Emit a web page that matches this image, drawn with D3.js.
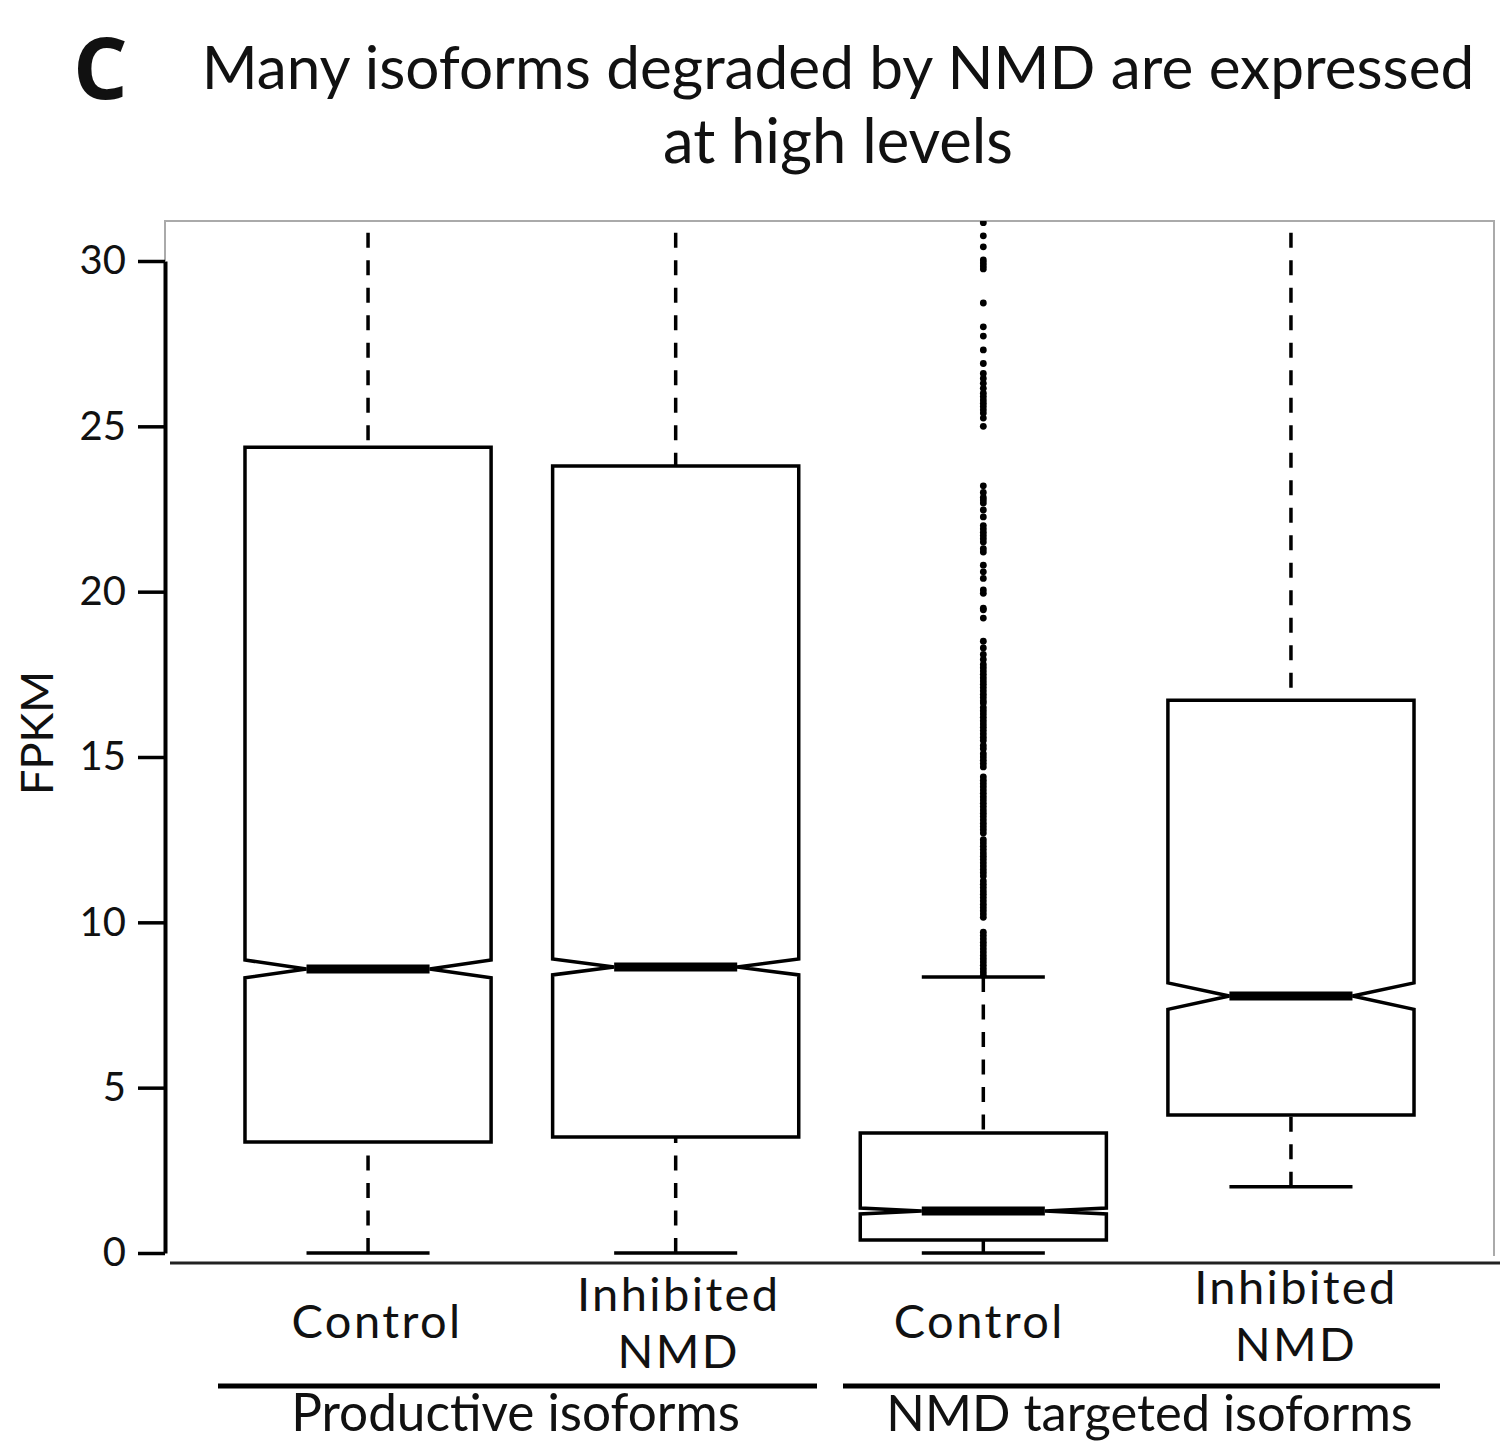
<!DOCTYPE html>
<html>
<head>
<meta charset="utf-8">
<script src="https://cdn.jsdelivr.net/npm/d3@7"></script>
<style>
  body { margin: 0; background: #fff; }
  text { font-family: Lato, "Open Sans", sans-serif; fill: #111; }
</style>
</head>
<body>
<div id="chart"></div>
<script>
// CHART DATA
const categories = ['pc', 'pi', 'nc', 'ni'];
const catLabels = [['Control'], ['Inhibited', 'NMD'], ['Control'], ['Inhibited', 'NMD']];
const groupLabels = ['Productive isoforms', 'NMD targeted isoforms'];
const q1Values = [3.36, 3.51, 0.39, 4.17];
const medianValues = [8.59, 8.65, 1.27, 7.77];
const q3Values = [24.37, 23.8, 3.63, 16.72];
const notchHalf = [0.27, 0.24, 0.09, 0.4];
const whiskerLow = [0, 0, 0, 2.0];
const whiskerHigh = [40, 40, 8.35, 40];
const yTicks = [0, 5, 10, 15, 20, 25, 30];
// outliers of the NMD targeted control box
const outliers = [
  31.16, 30.76, 30.43, 30.03, 29.94, 29.85, 29.76, 28.73, 28.01, 27.73, 27.31,
  26.9, 26.6, 26.45, 26.3, 26.15, 26.0, 25.9, 25.8, 25.7, 25.6, 25.5, 25.4, 25.25, 25.0,
  23.2, 23.0, 22.85, 22.77, 22.68, 22.47, 22.26,
  22.0, 21.9, 21.8, 21.7, 21.6, 21.5, 21.3, 21.2, 20.8, 20.6, 20.4, 20.05, 19.95,
  19.5, 19.45, 19.2, 18.5, 18.3,
  18.1, 17.95, 17.8, 17.7, 17.6, 17.5, 17.4, 17.3, 17.2, 17.1, 17.0, 16.9, 16.8, 16.7, 16.63,
  16.5, 16.4, 16.3, 16.2, 16.1, 16.0, 15.9, 15.8, 15.7, 15.6, 15.5,
  15.35, 15.25, 15.1, 15.0, 14.9, 14.8, 14.7,
  14.4, 14.3, 14.2, 14.1, 14.0, 13.9, 13.8, 13.7, 13.6, 13.5, 13.4, 13.3, 13.2, 13.1, 13.0, 12.9, 12.8, 12.7,
  12.5, 12.4, 12.3, 12.2, 12.1, 12.0, 11.9, 11.8, 11.7, 11.6, 11.5, 11.4,
  11.25, 11.15, 11.05, 10.95, 10.85, 10.75, 10.65, 10.55, 10.45, 10.35, 10.25, 10.15,
  9.7, 9.6, 9.5, 9.4, 9.3, 9.2, 9.1, 9.0, 8.9, 8.8, 8.7, 8.6, 8.5, 8.4
];
const outlierCat = 'nc';

// LAYOUT
const SVG_WIDTH = 1501;
const SVG_HEIGHT = 1444;
const PLOT = { left: 165, right: 1494, top: 221, bottom: 1256 };
const AXIS_Y0 = 1253, AXIS_Y30 = 261;

const svg = d3.select('#chart')
  .append('svg')
  .attr('width', SVG_WIDTH)
  .attr('height', SVG_HEIGHT);

// panel letter and title
svg.append('text')
  .attr('x', 73).attr('y', 99)
  .style('font-size', '86px').style('font-weight', 'bold')
  .style('font-family', '"Open Sans", sans-serif')
  .text('C');

const title = svg.append('text')
  .attr('text-anchor', 'middle');
title.append('tspan').attr('x', 838).attr('y', 89)
  .style('font-size', '60.3px')
  .text('Many isoforms degraded by NMD are expressed');
title.append('tspan').attr('x', 838).attr('y', 163)
  .style('font-size', '61.5px')
  .text('at high levels');

// scales
const xScale = d3.scalePoint()
  .domain(categories)
  .range([PLOT.left, PLOT.right])
  .padding(0.66);
const boxW = xScale.step() * 0.8;

const yScale = d3.scaleLinear()
  .domain([0, 30])
  .range([AXIS_Y0, AXIS_Y30]);

// plot frame (light gray)
svg.append('path')
  .attr('d', `M${PLOT.left},${AXIS_Y30}V${PLOT.top}H${PLOT.right}V${PLOT.bottom}`)
  .attr('fill', 'none')
  .attr('stroke', '#aaa')
  .attr('stroke-width', 2);

// bottom line
svg.append('line')
  .attr('x1', PLOT.left + 5).attr('x2', PLOT.right + 6)
  .attr('y1', 1263).attr('y2', 1263)
  .attr('stroke', '#222').attr('stroke-width', 3);

// y axis
const yAxis = svg.append('g')
  .attr('transform', `translate(${PLOT.left}, 0)`)
  .call(d3.axisLeft(yScale).tickValues(yTicks).tickSize(27).tickSizeOuter(0).tickPadding(12));
yAxis.select('.domain').attr('stroke', '#000').attr('stroke-width', 4);
yAxis.selectAll('.tick line').attr('stroke', '#000').attr('stroke-width', 3.5);
yAxis.selectAll('.tick text')
  .style('font-size', '40px')
  .style('font-family', 'Lato, sans-serif')
  .attr('fill', '#111');

svg.append('text')
  .attr('transform', 'translate(53, 733) rotate(-90)')
  .attr('text-anchor', 'middle')
  .style('font-size', '45px')
  .text('FPKM');

// clip for whiskers/outliers going past the top
svg.append('clipPath').attr('id', 'plot-clip')
  .append('rect')
  .attr('x', PLOT.left).attr('y', PLOT.top)
  .attr('width', PLOT.right - PLOT.left).attr('height', PLOT.bottom - PLOT.top);

const plot = svg.append('g').attr('clip-path', 'url(#plot-clip)');

const boxData = categories.map((c, i) => ({
  cat: c, q1: q1Values[i], med: medianValues[i], q3: q3Values[i],
  notch: notchHalf[i], lo: whiskerLow[i], hi: whiskerHigh[i]
}));

// whiskers (dashed), drawn from the whisker end toward the box
plot.selectAll('.whisker-up')
  .data(boxData)
  .join('line')
  .attr('x1', d => xScale(d.cat)).attr('x2', d => xScale(d.cat))
  .attr('y1', d => yScale(d.hi)).attr('y2', d => yScale(d.q3))
  .attr('stroke', '#000').attr('stroke-width', 3.5)
  .attr('stroke-dasharray', '15,12.5');

plot.selectAll('.whisker-down')
  .data(boxData)
  .join('line')
  .attr('x1', d => xScale(d.cat)).attr('x2', d => xScale(d.cat))
  .attr('y1', d => yScale(d.lo)).attr('y2', d => yScale(d.q1))
  .attr('stroke', '#000').attr('stroke-width', 3.5)
  .attr('stroke-dasharray', '15,12.5');

// caps
const caps = boxData.flatMap(d => [{ cat: d.cat, v: d.lo }, { cat: d.cat, v: d.hi }]);
plot.selectAll('.cap')
  .data(caps)
  .join('line')
  .attr('x1', d => xScale(d.cat) - boxW / 4).attr('x2', d => xScale(d.cat) + boxW / 4)
  .attr('y1', d => yScale(d.v)).attr('y2', d => yScale(d.v))
  .attr('stroke', '#000').attr('stroke-width', 3.5);

// notched boxes
function notchPath (d) {
  const cx = xScale(d.cat);
  const l = cx - boxW / 2, r = cx + boxW / 2;
  const il = cx - boxW / 4, ir = cx + boxW / 4;
  const yq3 = yScale(d.q3), yq1 = yScale(d.q1), ym = yScale(d.med);
  const yt = yScale(d.med + d.notch), yb = yScale(d.med - d.notch);
  return `M${l},${yq3}H${r}V${yt}L${ir},${ym}L${r},${yb}V${yq1}H${l}V${yb}L${il},${ym}L${l},${yt}Z`;
}
plot.selectAll('.box')
  .data(boxData)
  .join('path')
  .attr('d', notchPath)
  .attr('fill', '#fff')
  .attr('stroke', '#000')
  .attr('stroke-width', 3.5)
  .attr('stroke-linejoin', 'miter');

// medians
plot.selectAll('.median')
  .data(boxData)
  .join('line')
  .attr('x1', d => xScale(d.cat) - boxW / 4).attr('x2', d => xScale(d.cat) + boxW / 4)
  .attr('y1', d => yScale(d.med)).attr('y2', d => yScale(d.med))
  .attr('stroke', '#000').attr('stroke-width', 9);

// outliers
plot.selectAll('.outlier')
  .data(outliers)
  .join('circle')
  .attr('cx', xScale(outlierCat))
  .attr('cy', d => yScale(d))
  .attr('r', 3.4)
  .attr('fill', '#000');

// category labels
const labelY = [1338, 1311, 1338, 1304];
const labelDx = [9, 3, -4, 5];
categories.forEach((c, i) => {
  catLabels[i].forEach((s, k) => {
    svg.append('text')
      .attr('x', xScale(c) + labelDx[i])
      .attr('y', labelY[i] + k * 57)
      .attr('text-anchor', 'middle')
      .style('font-size', '47px')
      .style('letter-spacing', '2.4px')
      .text(s);
  });
});

// group brackets
const groupSpans = [[218, 817], [843, 1440]];
const groupDx = [-2, 8];
groupLabels.forEach((g, i) => {
  svg.append('line')
    .attr('x1', groupSpans[i][0]).attr('x2', groupSpans[i][1])
    .attr('y1', 1386).attr('y2', 1386)
    .attr('stroke', '#000').attr('stroke-width', 5);
  svg.append('text')
    .attr('x', (groupSpans[i][0] + groupSpans[i][1]) / 2 + groupDx[i])
    .attr('y', 1431)
    .attr('text-anchor', 'middle')
    .style('font-size', i === 0 ? '51.3px' : '50.6px')
    .text(g);
});
</script>
</body>
</html>
